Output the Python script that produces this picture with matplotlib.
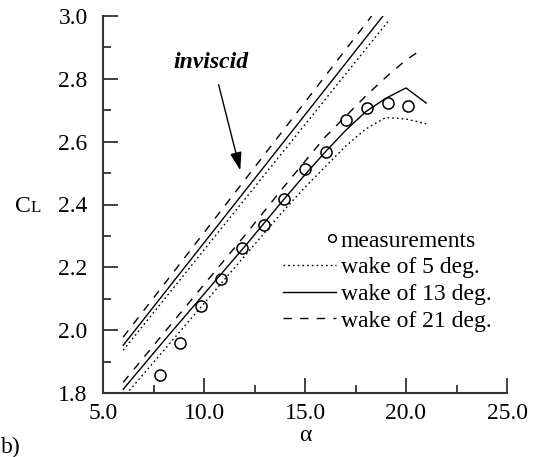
import matplotlib
matplotlib.use("Agg")
import matplotlib.pyplot as plt
from matplotlib.legend_handler import HandlerLine2D
import numpy as np

plt.rcParams['font.family'] = ['Liberation Serif', 'DejaVu Serif']

# measurements
meas_alpha = [7.8, 8.8, 9.85, 10.85, 11.9, 12.95, 13.95, 15.0, 16.05, 17.05, 18.05, 19.1, 20.1]
meas_cl = [1.857, 1.959, 2.076, 2.162, 2.261, 2.334, 2.417, 2.513, 2.567, 2.669, 2.707, 2.723, 2.713]

# inviscid lines (straight)
inv5_alpha = [6.0, 19.2]
inv5_cl = [1.936, 2.99]
inv13_alpha = [6.0, 18.86]
inv13_cl = [1.952, 3.0]
inv21_alpha = [6.0, 18.3]
inv21_cl = [1.978, 3.0]

# viscous lines
v_alpha = [6, 8, 10, 12, 14, 15, 16, 17, 18, 19, 20, 21]
v5_cl = [1.785, 1.935, 2.085, 2.235, 2.385, 2.455, 2.52, 2.585, 2.64, 2.677, 2.672, 2.657]
v13_cl = [1.812, 1.965, 2.115, 2.265, 2.42, 2.495, 2.567, 2.635, 2.695, 2.738, 2.771, 2.723]
v21_alpha = [6, 8, 10, 12, 14, 16, 17, 18, 19, 20, 20.7]
v21_cl = [1.834, 1.99, 2.145, 2.30, 2.46, 2.615, 2.68, 2.745, 2.805, 2.86, 2.89]

xticks = [5.0, 10.0, 15.0, 20.0, 25.0]
yticks = [1.8, 2.0, 2.2, 2.4, 2.6, 2.8, 3.0]

FS = 17
dotted = (0, (1.2, 2.2))
dashed = (0, (6, 6))

fig = plt.figure(figsize=(5.36, 4.57), dpi=100)
ax = fig.add_axes([103/536, 1-393/457, (507-103)/536, (393-16)/457])

lw = 1.0
ax.plot(inv5_alpha, inv5_cl, color='black', lw=lw, linestyle=dotted)
ax.plot(inv13_alpha, inv13_cl, color='black', lw=lw, linestyle='-')
ax.plot(inv21_alpha, inv21_cl, color='black', lw=lw, linestyle=dashed)
l5, = ax.plot(v_alpha, v5_cl, color='black', lw=lw, linestyle=dotted, label='wake of 5 deg.')
l13, = ax.plot(v_alpha, v13_cl, color='black', lw=lw, linestyle='-', label='wake of 13 deg.')
l21, = ax.plot(v21_alpha, v21_cl, color='black', lw=lw, linestyle=dashed, label='wake of 21 deg.')
lm, = ax.plot(meas_alpha, meas_cl, linestyle='none', marker='o', markersize=8,
              markerfacecolor='none', markeredgecolor='black', markeredgewidth=1.1,
              label='measurements')

ax.set_xlim(5, 25)
ax.set_ylim(1.8, 3.0)
ax.set_xticks(xticks)
ax.set_xticklabels([f"{v:.1f}" for v in xticks])
ax.set_yticks(yticks)
ax.set_yticklabels([f"{v:.1f}" for v in yticks])
ax.set_xticks(np.arange(7.5, 25, 5), minor=True)
ax.set_yticks(np.arange(1.9, 3.0, 0.2), minor=True)
ax.tick_params(which='major', direction='in', length=11, width=1.3, labelsize=FS, pad=7, color='#333333')
ax.tick_params(which='minor', direction='in', length=6, width=1.3, color='#333333')
ax.tick_params(axis='y', which='major', pad=11)
for s in ['top', 'right']:
    ax.spines[s].set_visible(False)
for s in ['left', 'bottom']:
    ax.spines[s].set_linewidth(1.5)
    ax.spines[s].set_color('#333333')

ax.set_xlabel('α', fontsize=FS, labelpad=1)

fig.text(15/536, 1-212/457, 'C', fontsize=FS, ha='left', va='baseline')
fig.text(31/536, 1-212/457, 'L', fontsize=FS*0.72, ha='left', va='baseline')

ax.annotate('', xy=(11.83, 2.50), xytext=(10.69, 2.79),
            arrowprops=dict(arrowstyle='-|>,head_length=1.1,head_width=0.35', color='black', lw=1.0))
ax.text(10.35, 2.853, 'inviscid', fontsize=FS, fontweight='bold', fontstyle='italic',
        ha='center', va='center')

fig.text(1/536, 1-453/457, 'b)', fontsize=FS, ha='left', va='baseline')


class RightMarker(HandlerLine2D):
    def get_xdata(self, legend, xdescent, ydescent, width, height, fontsize):
        x = -xdescent + 0.93 * width
        return [x, x], [x]


leg = ax.legend(handles=[lm, l5, l13, l21], loc='upper left',
                bbox_to_anchor=(283/536, 1-230/457), bbox_transform=fig.transFigure,
                frameon=False, fontsize=FS, handlelength=2.25, handletextpad=0.2,
                borderpad=0, borderaxespad=0, labelspacing=0.22, numpoints=1,
                handler_map={lm: RightMarker(numpoints=1)})
for h in leg.legend_handles:
    if h.get_marker() == 'o':
        h.set_markersize(5.5)

fig.savefig('out.png', dpi=100)
